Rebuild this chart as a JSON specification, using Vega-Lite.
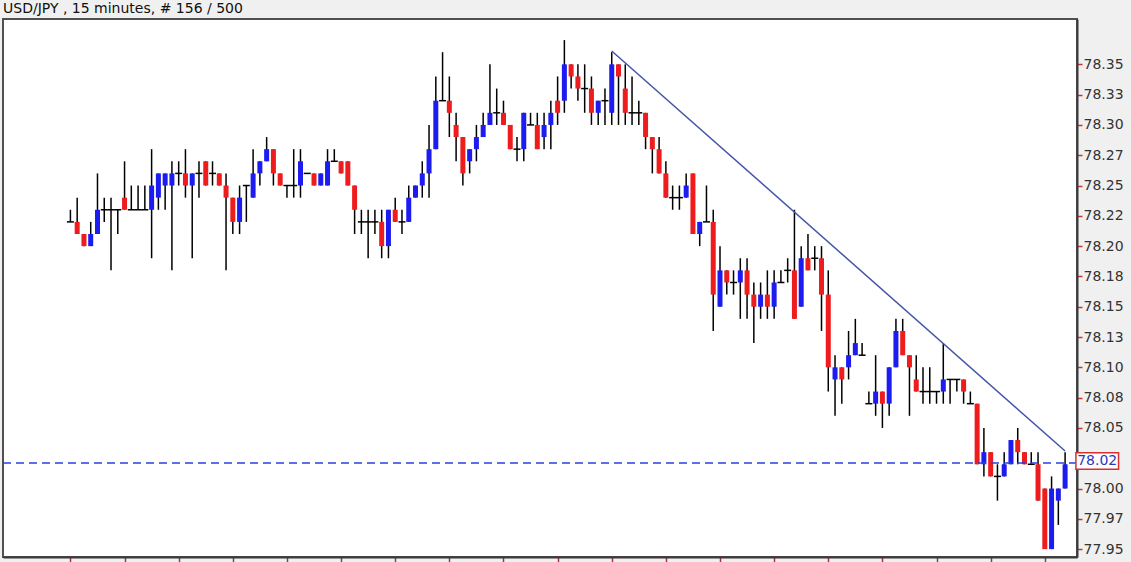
{
  "$schema": "https://vega.github.io/schema/vega-lite/v6.json",
  "width": 1074,
  "height": 538,
  "autosize": {"type": "none"},
  "padding": {"left": 3, "top": 19, "right": 54, "bottom": 5},
  "background": "#f0f0f0",
  "title": {"text": "USD/JPY , 15 minutes, # 156 / 500", "anchor": "start", "frame": "group", "offset": 3, "fontSize": 14, "font": "DejaVu Sans", "fontWeight": "normal", "color": "#111111"},
  "config": {"view": {"fill": "#ffffff", "stroke": "#505050", "strokeWidth": 2}, "font": "DejaVu Sans"},
  "datasets": {
    "candles": [
      {"i":0,"o":78.22,"h":78.23,"l":78.22,"c":78.22},
      {"i":1,"o":78.22,"h":78.24,"l":78.21,"c":78.21},
      {"i":2,"o":78.21,"h":78.21,"l":78.20,"c":78.20},
      {"i":3,"o":78.20,"h":78.22,"l":78.20,"c":78.21},
      {"i":4,"o":78.21,"h":78.26,"l":78.21,"c":78.23},
      {"i":5,"o":78.23,"h":78.24,"l":78.22,"c":78.23},
      {"i":6,"o":78.23,"h":78.24,"l":78.18,"c":78.23},
      {"i":7,"o":78.23,"h":78.23,"l":78.21,"c":78.23},
      {"i":8,"o":78.24,"h":78.27,"l":78.23,"c":78.23},
      {"i":9,"o":78.23,"h":78.25,"l":78.23,"c":78.23},
      {"i":10,"o":78.23,"h":78.25,"l":78.23,"c":78.23},
      {"i":11,"o":78.23,"h":78.25,"l":78.23,"c":78.23},
      {"i":12,"o":78.23,"h":78.28,"l":78.19,"c":78.25},
      {"i":13,"o":78.24,"h":78.26,"l":78.23,"c":78.26},
      {"i":14,"o":78.25,"h":78.26,"l":78.23,"c":78.26},
      {"i":15,"o":78.25,"h":78.27,"l":78.18,"c":78.26},
      {"i":16,"o":78.26,"h":78.27,"l":78.25,"c":78.26},
      {"i":17,"o":78.26,"h":78.28,"l":78.24,"c":78.25},
      {"i":18,"o":78.25,"h":78.26,"l":78.19,"c":78.26},
      {"i":19,"o":78.26,"h":78.27,"l":78.24,"c":78.26},
      {"i":20,"o":78.27,"h":78.27,"l":78.25,"c":78.25},
      {"i":21,"o":78.26,"h":78.27,"l":78.25,"c":78.26},
      {"i":22,"o":78.26,"h":78.26,"l":78.25,"c":78.25},
      {"i":23,"o":78.25,"h":78.26,"l":78.18,"c":78.24},
      {"i":24,"o":78.24,"h":78.24,"l":78.21,"c":78.22},
      {"i":25,"o":78.22,"h":78.25,"l":78.21,"c":78.24},
      {"i":26,"o":78.25,"h":78.25,"l":78.22,"c":78.25},
      {"i":27,"o":78.24,"h":78.28,"l":78.24,"c":78.26},
      {"i":28,"o":78.26,"h":78.27,"l":78.25,"c":78.27},
      {"i":29,"o":78.27,"h":78.29,"l":78.27,"c":78.28},
      {"i":30,"o":78.28,"h":78.28,"l":78.25,"c":78.26},
      {"i":31,"o":78.26,"h":78.26,"l":78.25,"c":78.25},
      {"i":32,"o":78.25,"h":78.25,"l":78.24,"c":78.25},
      {"i":33,"o":78.25,"h":78.28,"l":78.24,"c":78.25},
      {"i":34,"o":78.25,"h":78.28,"l":78.24,"c":78.27},
      {"i":35,"o":78.26,"h":78.26,"l":78.26,"c":78.26},
      {"i":36,"o":78.26,"h":78.26,"l":78.25,"c":78.25},
      {"i":37,"o":78.25,"h":78.26,"l":78.25,"c":78.26},
      {"i":38,"o":78.25,"h":78.28,"l":78.25,"c":78.27},
      {"i":39,"o":78.27,"h":78.28,"l":78.27,"c":78.27},
      {"i":40,"o":78.27,"h":78.27,"l":78.26,"c":78.26},
      {"i":41,"o":78.27,"h":78.27,"l":78.25,"c":78.25},
      {"i":42,"o":78.25,"h":78.25,"l":78.21,"c":78.23},
      {"i":43,"o":78.22,"h":78.23,"l":78.21,"c":78.22},
      {"i":44,"o":78.22,"h":78.23,"l":78.19,"c":78.22},
      {"i":45,"o":78.22,"h":78.23,"l":78.21,"c":78.22},
      {"i":46,"o":78.22,"h":78.23,"l":78.19,"c":78.20},
      {"i":47,"o":78.20,"h":78.23,"l":78.19,"c":78.23},
      {"i":48,"o":78.23,"h":78.24,"l":78.22,"c":78.22},
      {"i":49,"o":78.22,"h":78.23,"l":78.21,"c":78.22},
      {"i":50,"o":78.22,"h":78.25,"l":78.22,"c":78.24},
      {"i":51,"o":78.24,"h":78.25,"l":78.24,"c":78.25},
      {"i":52,"o":78.25,"h":78.27,"l":78.24,"c":78.26},
      {"i":53,"o":78.26,"h":78.30,"l":78.24,"c":78.28},
      {"i":54,"o":78.28,"h":78.34,"l":78.28,"c":78.32},
      {"i":55,"o":78.32,"h":78.36,"l":78.32,"c":78.32},
      {"i":56,"o":78.32,"h":78.34,"l":78.29,"c":78.31},
      {"i":57,"o":78.30,"h":78.31,"l":78.27,"c":78.29},
      {"i":58,"o":78.29,"h":78.29,"l":78.25,"c":78.26},
      {"i":59,"o":78.27,"h":78.28,"l":78.26,"c":78.28},
      {"i":60,"o":78.28,"h":78.30,"l":78.27,"c":78.29},
      {"i":61,"o":78.29,"h":78.31,"l":78.29,"c":78.30},
      {"i":62,"o":78.30,"h":78.35,"l":78.30,"c":78.31},
      {"i":63,"o":78.31,"h":78.33,"l":78.30,"c":78.31},
      {"i":64,"o":78.31,"h":78.32,"l":78.30,"c":78.30},
      {"i":65,"o":78.30,"h":78.30,"l":78.28,"c":78.28},
      {"i":66,"o":78.28,"h":78.29,"l":78.27,"c":78.28},
      {"i":67,"o":78.28,"h":78.31,"l":78.27,"c":78.31},
      {"i":68,"o":78.30,"h":78.31,"l":78.30,"c":78.30},
      {"i":69,"o":78.30,"h":78.31,"l":78.28,"c":78.28},
      {"i":70,"o":78.29,"h":78.31,"l":78.28,"c":78.30},
      {"i":71,"o":78.30,"h":78.32,"l":78.28,"c":78.31},
      {"i":72,"o":78.32,"h":78.34,"l":78.30,"c":78.31},
      {"i":73,"o":78.32,"h":78.37,"l":78.31,"c":78.35},
      {"i":74,"o":78.35,"h":78.35,"l":78.33,"c":78.34},
      {"i":75,"o":78.34,"h":78.35,"l":78.32,"c":78.33},
      {"i":76,"o":78.33,"h":78.35,"l":78.31,"c":78.33},
      {"i":77,"o":78.33,"h":78.34,"l":78.30,"c":78.31},
      {"i":78,"o":78.31,"h":78.32,"l":78.30,"c":78.32},
      {"i":79,"o":78.32,"h":78.33,"l":78.30,"c":78.32},
      {"i":80,"o":78.31,"h":78.36,"l":78.30,"c":78.35},
      {"i":81,"o":78.35,"h":78.35,"l":78.30,"c":78.34},
      {"i":82,"o":78.33,"h":78.35,"l":78.30,"c":78.31},
      {"i":83,"o":78.31,"h":78.34,"l":78.30,"c":78.31},
      {"i":84,"o":78.31,"h":78.32,"l":78.30,"c":78.31},
      {"i":85,"o":78.31,"h":78.31,"l":78.28,"c":78.29},
      {"i":86,"o":78.29,"h":78.29,"l":78.26,"c":78.28},
      {"i":87,"o":78.28,"h":78.29,"l":78.26,"c":78.26},
      {"i":88,"o":78.26,"h":78.27,"l":78.24,"c":78.24},
      {"i":89,"o":78.24,"h":78.25,"l":78.23,"c":78.24},
      {"i":90,"o":78.24,"h":78.25,"l":78.23,"c":78.24},
      {"i":91,"o":78.24,"h":78.26,"l":78.24,"c":78.25},
      {"i":92,"o":78.26,"h":78.26,"l":78.21,"c":78.21},
      {"i":93,"o":78.21,"h":78.22,"l":78.20,"c":78.22},
      {"i":94,"o":78.22,"h":78.25,"l":78.22,"c":78.22},
      {"i":95,"o":78.22,"h":78.23,"l":78.13,"c":78.16},
      {"i":96,"o":78.15,"h":78.20,"l":78.15,"c":78.18},
      {"i":97,"o":78.18,"h":78.18,"l":78.16,"c":78.17},
      {"i":98,"o":78.17,"h":78.18,"l":78.16,"c":78.17},
      {"i":99,"o":78.17,"h":78.19,"l":78.14,"c":78.18},
      {"i":100,"o":78.18,"h":78.19,"l":78.14,"c":78.16},
      {"i":101,"o":78.16,"h":78.17,"l":78.12,"c":78.15},
      {"i":102,"o":78.15,"h":78.17,"l":78.14,"c":78.16},
      {"i":103,"o":78.16,"h":78.18,"l":78.14,"c":78.15},
      {"i":104,"o":78.15,"h":78.18,"l":78.14,"c":78.17},
      {"i":105,"o":78.17,"h":78.18,"l":78.17,"c":78.17},
      {"i":106,"o":78.18,"h":78.19,"l":78.17,"c":78.18},
      {"i":107,"o":78.18,"h":78.23,"l":78.14,"c":78.14},
      {"i":108,"o":78.15,"h":78.20,"l":78.15,"c":78.19},
      {"i":109,"o":78.19,"h":78.21,"l":78.18,"c":78.18},
      {"i":110,"o":78.19,"h":78.20,"l":78.18,"c":78.19},
      {"i":111,"o":78.19,"h":78.20,"l":78.13,"c":78.16},
      {"i":112,"o":78.16,"h":78.18,"l":78.08,"c":78.10},
      {"i":113,"o":78.09,"h":78.11,"l":78.06,"c":78.10},
      {"i":114,"o":78.10,"h":78.10,"l":78.07,"c":78.09},
      {"i":115,"o":78.10,"h":78.13,"l":78.09,"c":78.11},
      {"i":116,"o":78.11,"h":78.14,"l":78.11,"c":78.12},
      {"i":117,"o":78.11,"h":78.12,"l":78.11,"c":78.11},
      {"i":118,"o":78.07,"h":78.08,"l":78.07,"c":78.07},
      {"i":119,"o":78.07,"h":78.11,"l":78.06,"c":78.08},
      {"i":120,"o":78.08,"h":78.08,"l":78.05,"c":78.07},
      {"i":121,"o":78.07,"h":78.10,"l":78.06,"c":78.10},
      {"i":122,"o":78.10,"h":78.14,"l":78.10,"c":78.13},
      {"i":123,"o":78.13,"h":78.14,"l":78.11,"c":78.11},
      {"i":124,"o":78.11,"h":78.11,"l":78.06,"c":78.10},
      {"i":125,"o":78.09,"h":78.11,"l":78.08,"c":78.08},
      {"i":126,"o":78.08,"h":78.10,"l":78.07,"c":78.08},
      {"i":127,"o":78.08,"h":78.10,"l":78.07,"c":78.08},
      {"i":128,"o":78.08,"h":78.08,"l":78.07,"c":78.08},
      {"i":129,"o":78.08,"h":78.12,"l":78.07,"c":78.09},
      {"i":130,"o":78.09,"h":78.09,"l":78.07,"c":78.09},
      {"i":131,"o":78.09,"h":78.09,"l":78.08,"c":78.09},
      {"i":132,"o":78.09,"h":78.09,"l":78.07,"c":78.08},
      {"i":133,"o":78.07,"h":78.08,"l":78.07,"c":78.07},
      {"i":134,"o":78.07,"h":78.07,"l":78.02,"c":78.02},
      {"i":135,"o":78.02,"h":78.05,"l":78.01,"c":78.03},
      {"i":136,"o":78.03,"h":78.03,"l":78.01,"c":78.01},
      {"i":137,"o":78.01,"h":78.02,"l":77.99,"c":78.01},
      {"i":138,"o":78.01,"h":78.03,"l":78.01,"c":78.02},
      {"i":139,"o":78.02,"h":78.04,"l":78.02,"c":78.04},
      {"i":140,"o":78.04,"h":78.05,"l":78.02,"c":78.03},
      {"i":141,"o":78.03,"h":78.03,"l":78.02,"c":78.02},
      {"i":142,"o":78.02,"h":78.03,"l":78.02,"c":78.02},
      {"i":143,"o":78.02,"h":78.03,"l":77.99,"c":77.99},
      {"i":144,"o":78.00,"h":78.00,"l":77.95,"c":77.95},
      {"i":145,"o":77.95,"h":78.01,"l":77.95,"c":78.00},
      {"i":146,"o":77.99,"h":78.00,"l":77.97,"c":78.00},
      {"i":147,"o":78.00,"h":78.03,"l":78.00,"c":78.02}
    ],
    "trend": [
      {"i": 80, "c": 78.361},
      {"i": 147, "c": 78.031}
    ],
    "last": [
      {"c": 78.021, "label": "78.02"}
    ]
  },
  "layer": [
    {
      "data": {"name": "candles"},
      "mark": {"type": "rule", "color": "#000000", "strokeWidth": 1.5},
      "encoding": {
        "x": {"field": "i", "type": "quantitative",
          "scale": {"domain": [-9.224, 148.02], "nice": false, "zero": false},
          "axis": {"values": [0,8,16,24,32,40,48,56,64,72,80,88,96,104,112,120,128,136,144], "tickCount": 40, "labels": false, "title": null, "grid": false, "domain": true, "domainColor": "#3a3a3a", "domainWidth": 2, "ticks": true, "tickColor": "#b03040", "tickSize": 6, "tickWidth": 1.5}},
        "y": {"field": "l", "type": "quantitative",
          "scale": {"domain": [77.9435, 78.3874], "nice": false, "zero": false},
          "axis": {"orient": "right", "values": [77.95,77.975,78.0,78.025,78.05,78.075,78.1,78.125,78.15,78.175,78.2,78.225,78.25,78.275,78.3,78.325,78.35],
            "tickCount": 40,
            "labelExpr": "abs(datum.value-78.025)<0.001 ? '' : abs(datum.value-78.275)<0.001 ? '78.27' : abs(datum.value-78.225)<0.001 ? '78.22' : abs(datum.value-77.975)<0.001 ? '77.97' : format(datum.value+0.0001,'.2f')",
            "labelOverlap": false, "labelBound": false,
            "title": null, "grid": false, "domain": true, "domainColor": "#3a3a3a", "domainWidth": 2, "ticks": true, "tickColor": "#d03030", "tickSize": 5, "tickWidth": 1.5, "labelColor": "#333333", "labelFont": "DejaVu Sans", "labelFontSize": 14, "labelPadding": 1}},
        "y2": {"field": "h"}
      }
    },
    {
      "data": {"name": "candles"},
      "transform": [{"filter": "datum.o != datum.c"}],
      "mark": {"type": "bar", "size": 5},
      "encoding": {
        "x": {"field": "i", "type": "quantitative"},
        "y": {"field": "o", "type": "quantitative"},
        "y2": {"field": "c"},
        "color": {"condition": {"test": "datum.c > datum.o", "value": "#1c1cf0"}, "value": "#ee1c1c"}
      }
    },
    {
      "data": {"name": "candles"},
      "transform": [{"filter": "datum.o == datum.c"}],
      "mark": {"type": "tick", "orient": "horizontal", "size": 7, "thickness": 1.5, "color": "#000000", "opacity": 1},
      "encoding": {
        "x": {"field": "i", "type": "quantitative"},
        "y": {"field": "c", "type": "quantitative"}
      }
    },
    {
      "data": {"name": "trend"},
      "mark": {"type": "line", "color": "#4655a8", "strokeWidth": 1.5},
      "encoding": {
        "x": {"field": "i", "type": "quantitative"},
        "y": {"field": "c", "type": "quantitative"}
      }
    },
    {
      "data": {"name": "last"},
      "mark": {"type": "rule", "color": "#2a40e0", "strokeWidth": 1.5, "strokeDash": [8, 5]},
      "encoding": {
        "y": {"field": "c", "type": "quantitative"}
      }
    },
    {
      "data": {"name": "last"},
      "mark": {"type": "rect", "fill": "#ffffff", "stroke": "#d83030", "strokeWidth": 1.5},
      "encoding": {
        "x": {"datum": 148.6},
        "x2": {"datum": 154.9},
        "y": {"datum": 78.0295},
        "y2": {"datum": 78.0158}
      }
    },
    {
      "data": {"name": "last"},
      "mark": {"type": "text", "color": "#2a38c0", "fontSize": 14, "font": "DejaVu Sans", "align": "center", "baseline": "middle"},
      "encoding": {
        "x": {"datum": 151.75},
        "y": {"datum": 78.0227},
        "text": {"field": "label"}
      }
    }
  ]
}
